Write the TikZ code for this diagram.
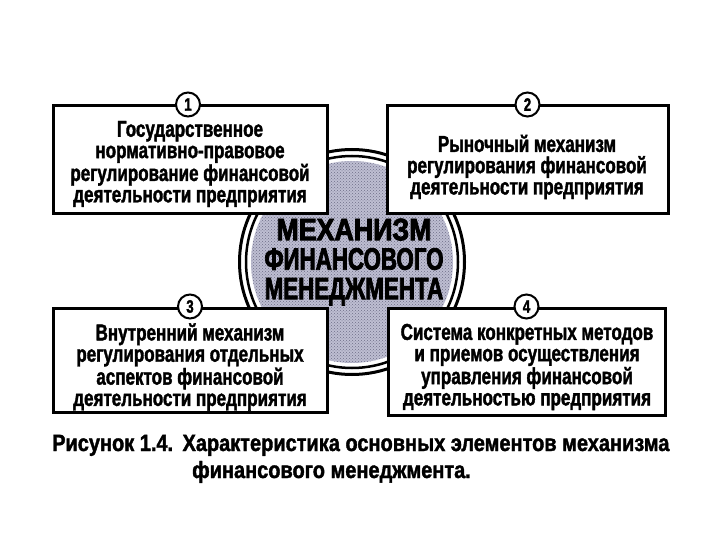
\documentclass[tikz,border=0pt]{standalone}
\usepackage{fontspec}
\setmainfont{Liberation Sans}
\newfontfamily\boxfont[FakeStretch=0.74,BoldFeatures={FakeBold=1.6}]{Liberation Sans}
\newfontfamily\capfont[FakeStretch=0.85,BoldFeatures={FakeBold=1.6}]{Liberation Sans}
\newfontfamily\bigfont[FakeStretch=0.72,BoldFeatures={FakeBold=2.5}]{Liberation Sans}
\usetikzlibrary{patterns}
\definecolor{ringfill}{RGB}{190,190,210}
\definecolor{dotcol}{RGB}{110,110,135}
\begin{document}
\begin{tikzpicture}[x=1pt,y=-1pt,
  boxst/.style={draw=black,line width=3pt,fill=white,rectangle,inner sep=0pt},
  numst/.style={draw=black,line width=2pt,fill=white,circle,inner sep=0pt,minimum size=24pt,font=\boxfont\bfseries\fontsize{18}{18}\selectfont},
  txtst/.style={align=center,inner sep=0pt,font=\boxfont\bfseries\fontsize{23}{21.3}\selectfont},
  bigst/.style={align=center,inner sep=0pt,font=\bigfont\bfseries\fontsize{31}{29.5}\selectfont},
  capst/.style={anchor=base west,inner sep=0pt,font=\capfont\bfseries\fontsize{23.5}{24}\selectfont}]
\useasboundingbox (0,0) rectangle (720,540);
% central emblem
\node[circle,minimum size=202pt,inner sep=0pt,fill=ringfill] (core) at (352,262) {};
\fill[pattern=crosshatch dots,pattern color=dotcol] (core.center) circle (101);
\node[circle,minimum size=212pt,inner sep=0pt,draw=black,line width=2.5pt] (ringin) at (core.center) {};
\node[circle,minimum size=225pt,inner sep=0pt,draw=black,line width=3pt] (ringout) at (core.center) {};
\node[bigst] (core text) at (354,262) {\scalebox{1.2}[1]{МЕХАНИЗМ}\\ФИНАНСОВОГО\\МЕНЕДЖМЕНТА};
% boxes
\node[boxst,minimum width=274pt,minimum height=108pt] (b1) at (190,160) {};
\node[boxst,minimum width=281pt,minimum height=108pt] (b2) at (527.5,160) {};
\node[boxst,minimum width=274pt,minimum height=104pt] (b3) at (190,360) {};
\node[boxst,minimum width=277pt,minimum height=107pt] (b4) at (526.5,361.5) {};
\node[numst] (n1) at ([xshift=-2pt]b1.north) {1};
\node[numst] (n2) at (b2.north) {2};
\node[numst] (n3) at (b3.north) {3};
\node[numst] (n4) at (b4.north) {4};
\node[txtst] (t1) at (190,164) {Государственное\\нормативно-правовое\\регулирование финансовой\\деятельности предприятия};
\node[txtst] (t2) at (527,167) {Рыночный механизм\\регулирования финансовой\\деятельности предприятия};
\node[txtst] (t3) at (190,367) {Внутренний механизм\\регулирования отдельных\\аспектов финансовой\\деятельности предприятия};
\node[txtst] (t4) at (527,367) {Система конкретных методов\\и приемов осуществления\\управления финансовой\\деятельностью предприятия};
% caption
\node[capst] (c1) at (52,451) {Рисунок 1.4.\hspace{0.4em}Характеристика основных элементов механизма};
\node[capst] (c2) at (192,478) {финансового менеджмента.};
\end{tikzpicture}
\end{document}
